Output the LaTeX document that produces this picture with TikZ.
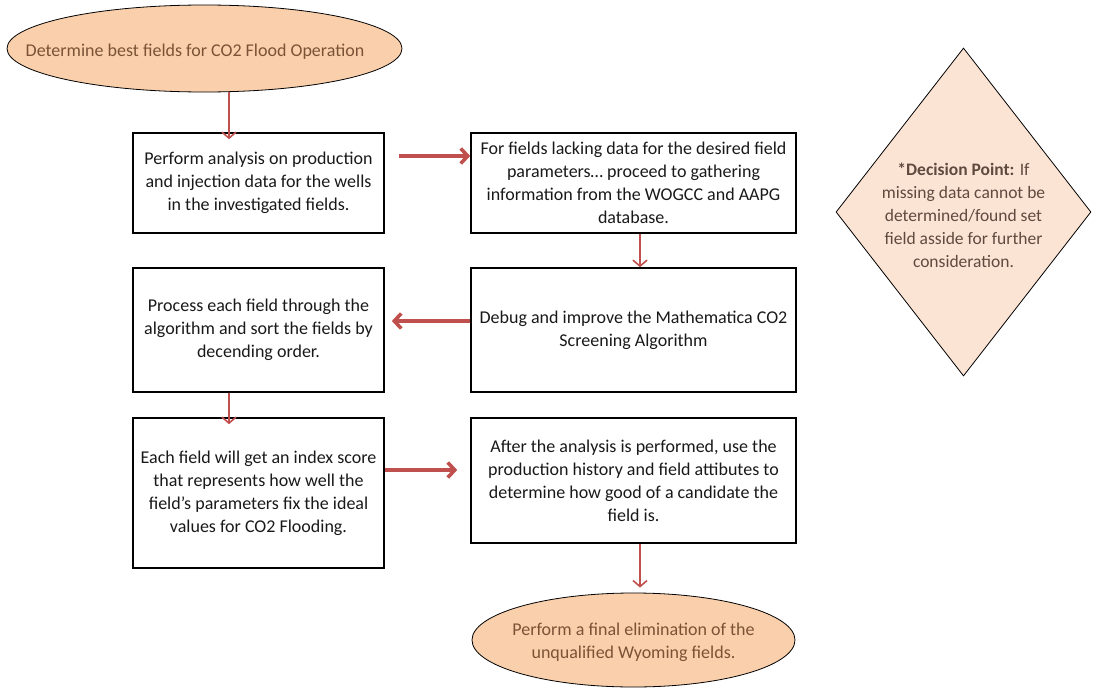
\documentclass[tikz,border=0pt]{standalone}
\usepackage{fontspec}
\setmainfont{Carlito}
\usetikzlibrary{shapes.geometric,arrows.meta}

\definecolor{flowred}{HTML}{C0504D}
\definecolor{peach}{HTML}{FAD0AC}
\definecolor{palepeach}{HTML}{FCE4D5}
\definecolor{browntext}{HTML}{7B5235}
\definecolor{greytext}{HTML}{5E4A3E}

\tikzset{
  stepbox/.style={draw, line width=1.6pt, align=center, inner sep=3pt,
    font=\fontsize{18}{23}\selectfont, text=black!90},
  terminal/.style={ellipse, draw, line width=0.8pt, fill=peach, inner sep=0pt},
  terminaltext/.style={align=center, text=browntext, font=\fontsize{18}{23}\selectfont},
  decision/.style={diamond, draw, line width=0.8pt, fill=palepeach,
    inner sep=0pt},
  thinarrow/.style={draw=flowred, line width=1.6pt,
    -{Straight Barb[length=6pt,width=14pt]}},
  thickarrow/.style={draw=flowred, line width=3.6pt,
    -{Straight Barb[length=7pt,width=15pt]}}
}

\begin{document}
\begin{tikzpicture}[x=1pt, y=-1pt]
    \useasboundingbox (0,0) rectangle (1095,688);
    % Start i koniec
    \node[terminal, minimum width=395, minimum height=87] (start) at (204.5,48.5) {};
    \node[terminaltext] (starttext) at (195,52) {Determine best fields for CO2 Flood Operation};
    \node[terminal, minimum width=323, minimum height=94] (finish) at (633.5,640) {};
    \node[terminaltext] (finishtext) at (633.5,642)
        {Perform a final elimination of the\\unqualified Wyoming fields.};
    % Kroki
    \node[stepbox, minimum width=251, minimum height=100] (analysis) at (258.5,183)
        {Perform analysis on production\\and injection data for the wells\\in the investigated fields.};
    \node[stepbox, minimum width=325, minimum height=100] (gather) at (633.5,183)
        {For fields lacking data for the desired field\\parameters\dots{} proceed to gathering\\information from the WOGCC and AAPG\\database.};
    \node[stepbox, minimum width=325, minimum height=124] (debug) at (633.5,330)
        {Debug and improve the Mathematica CO2\\Screening Algorithm};
    \node[stepbox, minimum width=251, minimum height=124] (process) at (258.5,330)
        {Process each field through the\\algorithm and sort the fields by\\decending order.};
    \node[stepbox, minimum width=251, minimum height=150] (score) at (258.5,493)
        {Each field will get an index score\\that represents how well the\\field's parameters fix the ideal\\values for CO2 Flooding.};
    \node[stepbox, minimum width=325, minimum height=125] (history) at (633.5,480.5)
        {After the analysis is performed, use the\\production history and field attibutes to\\determine how good of a candidate the\\field is.};
    % Punkt decyzyjny
    \node[decision, minimum width=255, minimum height=328] (decide) at (963.5,212) {};
    \node[align=center, text=greytext, font=\fontsize{17.5}{23}\selectfont] (decidetext) at (963.5,215)
        {\textbf{*Decision Point:} If\\missing data cannot be\\determined/found set\\field asside for further\\consideration.};
    % Strzalki
    \draw[thinarrow] ([xshift=-29.5pt]analysis.north |- start.south) -- ([xshift=-29.5pt,yshift=-7pt]analysis.north);
    \draw[thickarrow] ([xshift=14pt,yshift=27pt]analysis.east) -- ([yshift=27pt]gather.west);
    \draw[thinarrow] ([xshift=6.5pt]gather.south) -- ([xshift=6.5pt]debug.north);
    \draw[thickarrow] ([yshift=9pt]debug.west) -- ([xshift=7pt,yshift=9pt]process.east);
    \draw[thinarrow] ([xshift=-29.5pt]process.south) -- ([xshift=-29.5pt,yshift=-7pt]score.north);
    \draw[thickarrow] ([yshift=23pt]score.east) -- ([xshift=-13pt,yshift=10.5pt]history.west);
    \draw[thinarrow] ([xshift=6.5pt]history.south) -- ([xshift=6.5pt,yshift=5pt]finish.north);
\end{tikzpicture}
\end{document}
